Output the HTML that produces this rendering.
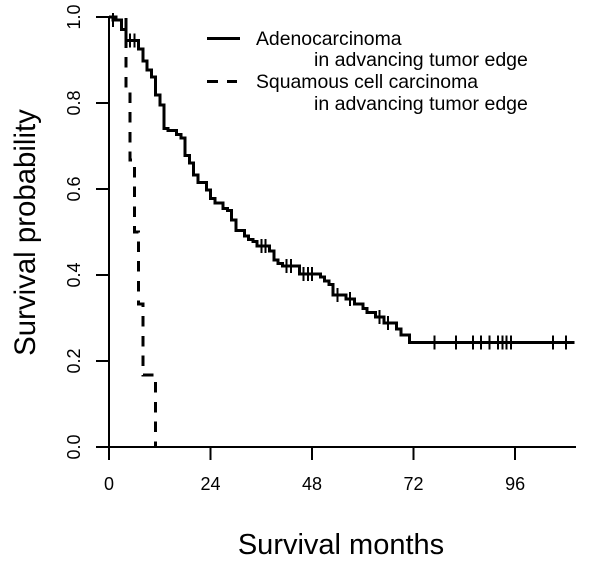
<!DOCTYPE html>
<html>
<head>
<meta charset="utf-8">
<title>Survival chart</title>
<style>
html,body{margin:0;padding:0;background:#fff;}
svg{display:block;}
text{font-family:"Liberation Sans",Arial,sans-serif;fill:#000;}
line,path{shape-rendering:crispEdges;}
</style>
</head>
<body>
<svg id="chart" width="600" height="580" viewBox="0 0 600 580" xmlns="http://www.w3.org/2000/svg">
  <rect width="600" height="580" fill="#fff"/>
  <g id="axes"></g>
  <g id="series"></g>
  <text x="341" y="554" font-size="29" text-anchor="middle">Survival months</text>
  <text transform="translate(35,232.5) rotate(-90)" font-size="29.4" text-anchor="middle">Survival probability</text>
  <g>
    <line x1="207" y1="38.5" x2="240" y2="38.5" stroke="#000" stroke-width="3"/>
    <line x1="207" y1="81.5" x2="237" y2="81.5" stroke="#000" stroke-width="3" stroke-dasharray="11 9"/>
    <text x="256" y="45" font-size="19.4">Adenocarcinoma</text>
    <text x="314" y="66" font-size="19.55">in advancing tumor edge</text>
    <text x="256" y="88" font-size="19.4">Squamous cell carcinoma</text>
    <text x="314" y="110" font-size="19.55">in advancing tumor edge</text>
  </g>
</svg>
<script>
const xTicks = [0, 24, 48, 72, 96];
const yTicks = [0, 0.2, 0.4, 0.6, 0.8, 1];
const yTickLabels = ["0.0", "0.2", "0.4", "0.6", "0.8", "1.0"];
const adenoTimes = [0,1,3,4,7,8,9,10,11,12,13,14,16,17,18,19,20,21,23,24,25,27,28,29,30,32,33,34,35,38,39,40,41,45,50,51,52,53,56,58,60,61,63,65,68,69,71];
const adenoSurvival = [1,.993,.971,.945,.926,.898,.877,.86,.819,.795,.741,.736,.727,.719,.678,.66,.633,.615,.598,.578,.567,.555,.55,.528,.503,.491,.483,.478,.467,.456,.435,.427,.421,.402,.395,.386,.378,.353,.344,.332,.322,.313,.302,.288,.274,.26,.243];
const adenoCensored = [1,5,6,36,37,42,43,46,47,48,54,57,64,66,77,82,86,88,90,92,93,94,95,105,108];
const adenoEnd = [110];
const squamousTimes = [0,4,5,6,7,8,11];
const squamousSurvival = [1,.833,.667,.5,.333,.167,0];
const axisMax = [110.4];

const NS = 'http://www.w3.org/2000/svg';
const xPos = m => 109 + m * 4.23;
const yPos = s => 447 - s * 430;
const axes = document.getElementById('axes');
const series = document.getElementById('series');

function mk(parent, tag, attrs, text) {
  const el = document.createElementNS(NS, tag);
  for (const k in attrs) el.setAttribute(k, attrs[k]);
  if (text !== undefined) el.textContent = text;
  parent.appendChild(el);
  return el;
}
function stepPath(times, surv, end) {
  let d = 'M' + xPos(times[0]) + ' ' + yPos(surv[0]);
  for (let i = 1; i < times.length; i++) {
    d += 'H' + xPos(times[i]) + 'V' + yPos(surv[i]);
  }
  if (end !== undefined) d += 'H' + xPos(end);
  return d;
}
function survivalAt(t) {
  let s = adenoSurvival[0];
  for (let i = 0; i < adenoTimes.length; i++) {
    if (adenoTimes[i] <= t) s = adenoSurvival[i];
  }
  return s;
}

const xAxisLine = mk(axes, 'line', {x1: xPos(0), x2: xPos(axisMax[0]), y1: yPos(0), y2: yPos(0), stroke: '#000', 'stroke-width': 2});


const yAxisLine = mk(axes, 'line', {x1: xPos(0), x2: xPos(0), y1: yPos(0), y2: yPos(1), stroke: '#000', 'stroke-width': 2});



xTicks.forEach(t => {
  const tick = mk(axes, 'line', {x1: xPos(t), x2: xPos(t), y1: yPos(0), y2: yPos(0) + 13, stroke: '#000', 'stroke-width': 2});
  
  
  const label = mk(axes, 'text', {x: xPos(t), y: 490, 'font-size': 18, 'text-anchor': 'middle'}, String(t));
  
  
});
yTicks.forEach((v, i) => {
  const tick = mk(axes, 'line', {x1: xPos(0) - 13, x2: xPos(0), y1: yPos(v), y2: yPos(v), stroke: '#000', 'stroke-width': 2});
  
  
  const label = mk(axes, 'text', {transform: 'translate(80,' + yPos(v) + ') rotate(-90)', 'font-size': 18, 'text-anchor': 'middle'}, yTickLabels[i]);
  
  
});

const squamousLine = mk(series, 'path', {d: stepPath(squamousTimes, squamousSurvival), fill: 'none', stroke: '#000', 'stroke-width': 3, 'stroke-dasharray': '10.5 9.2', 'stroke-dashoffset': 2});


const adenoLine = mk(series, 'path', {d: stepPath(adenoTimes, adenoSurvival, adenoEnd[0]), fill: 'none', stroke: '#000', 'stroke-width': 3});



adenoCensored.forEach(t => {
  const y = yPos(survivalAt(t));
  const mark = mk(series, 'line', {x1: xPos(t), x2: xPos(t), y1: y - 7, y2: y + 7, stroke: '#000', 'stroke-width': 2});
  
  
});
</script>
</body>
</html>
